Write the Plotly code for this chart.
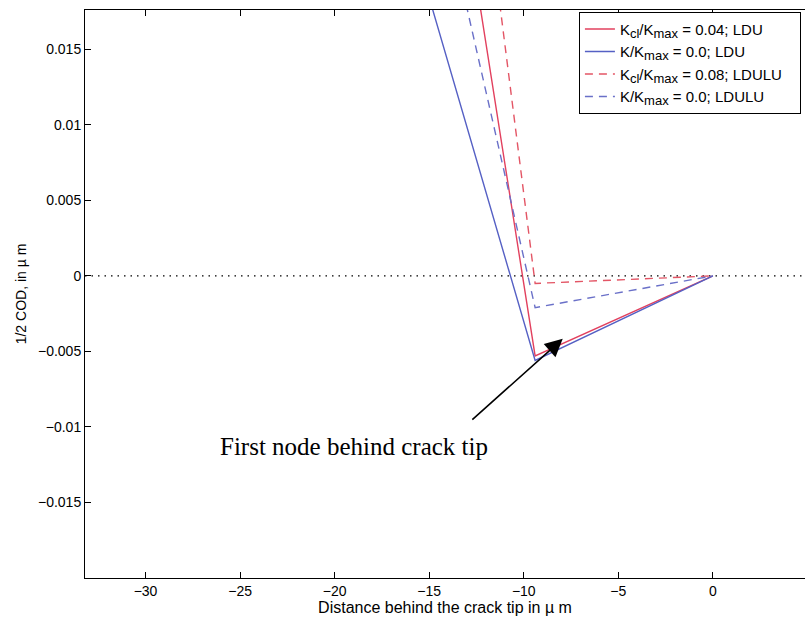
import plotly.graph_objects as go

# Node positions behind the crack tip (µm) and half crack-opening displacement (µm)
node_x = [-18.8, -9.4, 0.0]
cod_ldu_kcl004 = [0.0695, -0.0053, 0.0]
cod_ldu_k0 = [0.0347, -0.0056, 0.0]
cod_lduli_kcl008 = [0.0925, -0.0005, 0.0]
cod_lduli_k0 = [0.0496, -0.0021, 0.0]


def sub(s):
    return '<sub><span style="font-size:13px">' + s + "</span></sub>"


series_names = [
    "K" + sub("cl") + "/K" + sub("max") + " = 0.04; LDU",
    "K/K" + sub("max") + " = 0.0; LDU",
    "K" + sub("cl") + "/K" + sub("max") + " = 0.08; LDULU\u00a0\u00a0\u00a0",
    "K/K" + sub("max") + " = 0.0; LDULU",
]

x_ticks = [-30, -25, -20, -15, -10, -5, 0]
x_tick_text = ["\u221230", "\u221225", "\u221220", "\u221215", "\u221210", "\u22125", "0"]
y_ticks = [0.015, 0.01, 0.005, 0, -0.005, -0.01, -0.015]
y_tick_text = ["0.015", "0.01", "0.005", "0", "\u22120.005", "\u22120.01", "\u22120.015"]

x_limits = [-33.2, 4.87]
y_limits = [-0.02, 0.0176]

font_sans = "Liberation Sans, Arial, Helvetica, sans-serif"
font_serif = "Liberation Serif, Times New Roman, serif"

red = "#e2405e"
blue = "#5560c4"
red_dash = "#e35565"
blue_dash = "#6a70c8"

fig = go.Figure()

# Zero-opening reference line
fig.add_trace(go.Scatter(
    x=x_limits, y=[0, 0], mode="lines",
    line=dict(color="black", width=1.2, dash="1.5px,5px"),
    showlegend=False, hoverinfo="skip",
))

fig.add_trace(go.Scatter(x=node_x, y=cod_ldu_kcl004, mode="lines", name=series_names[0],
                         line=dict(color=red, width=1.4)))
fig.add_trace(go.Scatter(x=node_x, y=cod_ldu_k0, mode="lines", name=series_names[1],
                         line=dict(color=blue, width=1.4)))
fig.add_trace(go.Scatter(x=node_x, y=cod_lduli_kcl008, mode="lines", name=series_names[2],
                         line=dict(color=red_dash, width=1.4, dash="8px,6px")))
fig.add_trace(go.Scatter(x=node_x, y=cod_lduli_k0, mode="lines", name=series_names[3],
                         line=dict(color=blue_dash, width=1.4, dash="8px,6px")))

# Arrow pointing at the first node behind the crack tip
fig.add_annotation(
    x=-7.94, y=-0.00417, ax=-12.8, ay=-0.0096,
    xref="x", yref="y", axref="x", ayref="y",
    text="", showarrow=True, arrowhead=2, arrowsize=2.2, arrowwidth=1.6,
    arrowcolor="black",
)
fig.add_annotation(
    x=-19.0, y=-0.01132, xref="x", yref="y",
    text="First node behind crack tip", showarrow=False,
    font=dict(family=font_serif, size=25, color="black"),
    xanchor="center", yanchor="middle",
)

fig.update_layout(
    width=805, height=622,
    margin=dict(l=85, r=0, t=10, b=44),
    paper_bgcolor="white", plot_bgcolor="white",
    font=dict(family=font_sans, size=14, color="black"),
    legend=dict(
        x=0.686, y=0.997, xanchor="left", yanchor="top",
        bgcolor="white", bordercolor="black", borderwidth=1,
        font=dict(family=font_sans, size=15, color="black"),
        tracegroupgap=0,
    ),
)

fig.update_xaxes(
    range=x_limits, tickvals=x_ticks, ticktext=x_tick_text,
    showline=True, linecolor="black", linewidth=1, mirror="ticks",
    ticks="inside", ticklen=6, tickcolor="black",
    tickfont=dict(size=14),
    showgrid=False, zeroline=False,
    title=dict(text="Distance behind the crack tip in \u00b5 m", standoff=2,
               font=dict(size=16)),
)
fig.update_yaxes(
    range=y_limits, tickvals=y_ticks, ticktext=y_tick_text,
    showline=True, linecolor="black", linewidth=1, mirror=False,
    ticks="inside", ticklen=6, tickcolor="black",
    tickfont=dict(size=14),
    showgrid=False, zeroline=False,
    title=dict(text="1/2 COD, in \u00b5 m", standoff=8, font=dict(size=14)),
)

fig.write_html("out.html")
